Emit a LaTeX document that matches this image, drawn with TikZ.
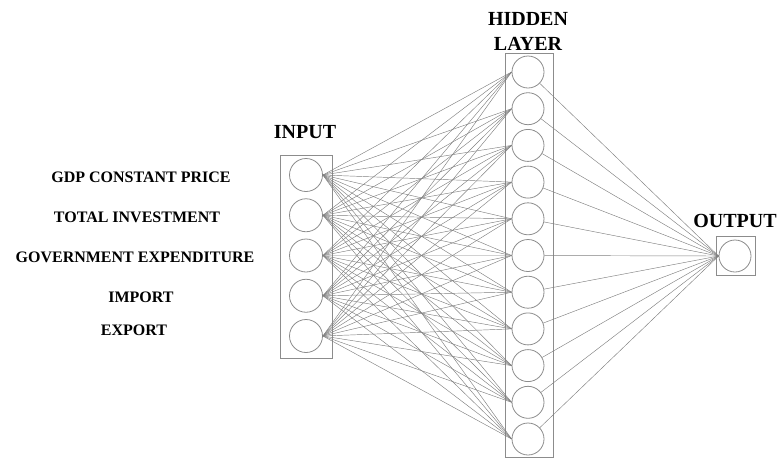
\documentclass[tikz,border=0pt]{standalone}
\usepackage{fontspec}
\setmainfont{Liberation Serif}
\begin{document}
\begin{tikzpicture}[x=1pt,y=-1pt,
  neuron/.style={circle,draw=black!45,line width=0.8pt,minimum size=32pt,inner sep=0pt},
  layerbox/.style={draw=black!45,line width=0.8pt},
  link/.style={draw=black!50,line width=0.45pt},
  title/.style={font=\fontsize{20}{24}\selectfont\bfseries,anchor=base,inner sep=0pt},
  feature/.style={font=\fontsize{16}{19}\selectfont\bfseries,anchor=base,inner sep=0pt}]
\useasboundingbox (0,0) rectangle (779,459);

% layer frames
\draw[layerbox] (280,155) rectangle (332,358);
\draw[layerbox] (505,53) rectangle (553,457);
\draw[layerbox] (716,236) rectangle (755,275);

% neurons
\foreach \k in {1,...,5}
  \node[neuron,minimum size=33pt] (i\k) at (306,{175+40.25*(\k-1)}) {};
\foreach \k in {1,...,11}
  \node[neuron] (h\k) at (528,{72+36.7*(\k-1)}) {};
\node[neuron] (o) at (735,256) {};

% connections
\foreach \a in {1,...,5}
  \foreach \b in {1,...,11}
    \draw[link] (i\a.east) -- (h\b.west);
\foreach \b in {1,...,11}
  \draw[link] (h\b) -- (o.west);

% layer titles
\node[title] (tin) at (305,138) {INPUT};
\node[title] (thid) at (528,25) {HIDDEN};
\node[title] (tlay) at (528,50) {LAYER};
\node[title] (tout) at (735,227) {OUTPUT};

% input features
\node[feature] (f1) at (141,182) {GDP CONSTANT PRICE};
\node[feature] (f2) at (137,222) {TOTAL INVESTMENT};
\node[feature] (f3) at (135,262) {GOVERNMENT EXPENDITURE};
\node[feature] (f4) at (141,302) {IMPORT};
\node[feature] (f5) at (134,335) {EXPORT};
\end{tikzpicture}
\end{document}
